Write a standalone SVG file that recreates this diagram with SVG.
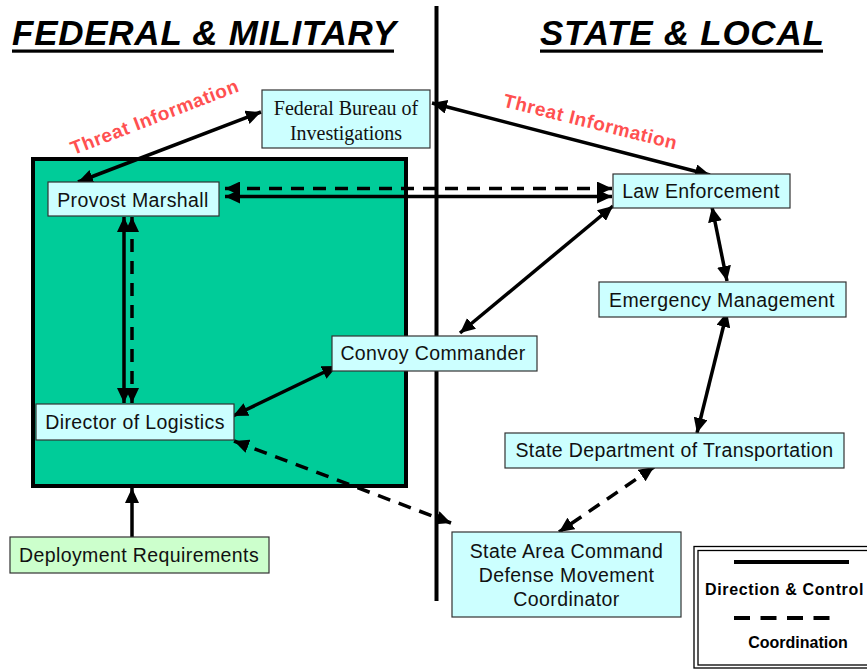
<svg xmlns="http://www.w3.org/2000/svg" width="867" height="669" viewBox="0 0 867 669">
<style>
.title{font-family:"Liberation Sans",Arial,sans-serif;font-weight:bold;font-style:italic;font-size:35px;letter-spacing:0.75px;fill:#000}
.node rect{fill:#CCFFFF;stroke:#333;stroke-width:1.2}
.node text{font-family:"Liberation Sans",Arial,sans-serif;font-size:19.5px;letter-spacing:0.4px;fill:#111;text-anchor:middle}
.serif text{font-family:"Liberation Serif","Times New Roman",serif;font-size:20px;letter-spacing:0}
.solid{stroke:#000;stroke-width:3.5;fill:none;marker-start:url(#ah);marker-end:url(#ah)}
.dash{stroke:#000;stroke-width:3.5;fill:none;stroke-dasharray:13 9;marker-start:url(#ah);marker-end:url(#ah)}
.threat{font-family:"Liberation Sans",Arial,sans-serif;font-weight:bold;font-size:19px;letter-spacing:0.6px;fill:#FF5050;text-anchor:middle}
.leg{font-family:"Liberation Sans",Arial,sans-serif;font-weight:bold;font-size:16px;fill:#000}
</style>
<defs>
<marker id="ah" markerUnits="userSpaceOnUse" markerWidth="16" markerHeight="14" refX="15" refY="7" orient="auto-start-reverse" viewBox="0 0 16 14">
<path d="M0,0 L15,7 L0,14 z" fill="#000"/>
</marker>
</defs>
<rect width="867" height="669" fill="#fff"/>
<g id="titles">
<text class="title" x="12" y="45">FEDERAL &amp; MILITARY</text>
<rect x="12" y="49.5" width="382" height="3.2" fill="#000"/>
<text class="title" x="540" y="45">STATE &amp; LOCAL</text>
<rect x="540" y="49.5" width="283" height="3.2" fill="#000"/>
</g>
<g id="military-box">
<rect x="33" y="159" width="373" height="327" fill="#00CC99" stroke="#000" stroke-width="4"/>
</g>
<g id="divider">
<line x1="436.5" y1="6" x2="436.5" y2="601" stroke="#000" stroke-width="4"/>
</g>
<g id="legend">
<rect x="694" y="546.5" width="200" height="121.5" fill="#fff" stroke="#000" stroke-width="1.3"/>
<rect x="698" y="550.5" width="200" height="114.5" fill="none" stroke="#000" stroke-width="1.3"/>
<line x1="734" y1="562" x2="849" y2="562" stroke="#000" stroke-width="4"/>
<text class="leg" x="705" y="595" letter-spacing="0.65">Direction &amp; Control</text>
<line x1="734" y1="618" x2="830" y2="618" stroke="#000" stroke-width="4" stroke-dasharray="16 10.5"/>
<text class="leg" x="798" y="648" text-anchor="middle" font-size="15.5">Coordination</text>
</g>
<g id="connectors">
<line class="solid" x1="261" y1="112" x2="78" y2="182"/>
<line class="solid" x1="432" y1="103" x2="710" y2="175"/>
<line class="dash" x1="225" y1="188.5" x2="612" y2="188.5"/>
<line class="solid" x1="225" y1="196.5" x2="612" y2="196.5"/>
<line class="solid" x1="613" y1="206" x2="460" y2="333"/>
<line class="solid" x1="712" y1="207" x2="727" y2="281"/>
<line class="solid" x1="727" y1="312" x2="697" y2="433"/>
<line class="dash" x1="654" y1="467" x2="559" y2="532"/>
<line class="dash" x1="234" y1="441" x2="451" y2="523"/>
<line class="solid" x1="233" y1="416" x2="337" y2="366"/>
<line class="solid" x1="124" y1="217" x2="124" y2="403"/>
<line class="dash" x1="132" y1="217" x2="132" y2="403"/>
<line x1="132" y1="537" x2="132" y2="488" stroke="#000" stroke-width="3.5" marker-end="url(#ah)"/>
</g>
<g id="fbi" class="node serif">
<rect x="262" y="90" width="168" height="58"/>
<text x="346" y="115">Federal Bureau of</text>
<text x="346" y="140">Investigations</text>
</g>
<g id="provost-marshall" class="node">
<rect x="48" y="182" width="171" height="34"/>
<text x="133" y="207">Provost Marshall</text>
</g>
<g id="law-enforcement" class="node">
<rect x="613" y="174" width="177" height="34"/>
<text x="701" y="198">Law Enforcement</text>
</g>
<g id="emergency-management" class="node">
<rect x="599" y="282" width="247" height="35"/>
<text x="722" y="307">Emergency Management</text>
</g>
<g id="convoy-commander" class="node">
<rect x="332" y="336" width="205" height="35"/>
<text x="433" y="360">Convoy Commander</text>
</g>
<g id="director-of-logistics" class="node">
<rect x="36" y="404" width="198" height="36"/>
<text x="135" y="429">Director of Logistics</text>
</g>
<g id="state-dot" class="node">
<rect x="505" y="433" width="339" height="35"/>
<text x="674.5" y="457">State Department of Transportation</text>
</g>
<g id="state-area-command" class="node">
<rect x="452" y="532" width="229" height="85"/>
<text x="566.5" y="558">State Area Command</text>
<text x="566.5" y="582">Defense Movement</text>
<text x="566.5" y="606">Coordinator</text>
</g>
<g id="deployment-requirements" class="node">
<rect x="10" y="537" width="259" height="36" style="fill:#CCFFCC"/>
<text x="139" y="562">Deployment Requirements</text>
</g>
<g id="threat-labels">
<text class="threat" transform="translate(157,123) rotate(-21)">Threat Information</text>
<text class="threat" transform="translate(589,128) rotate(14)">Threat Information</text>
</g>
</svg>
